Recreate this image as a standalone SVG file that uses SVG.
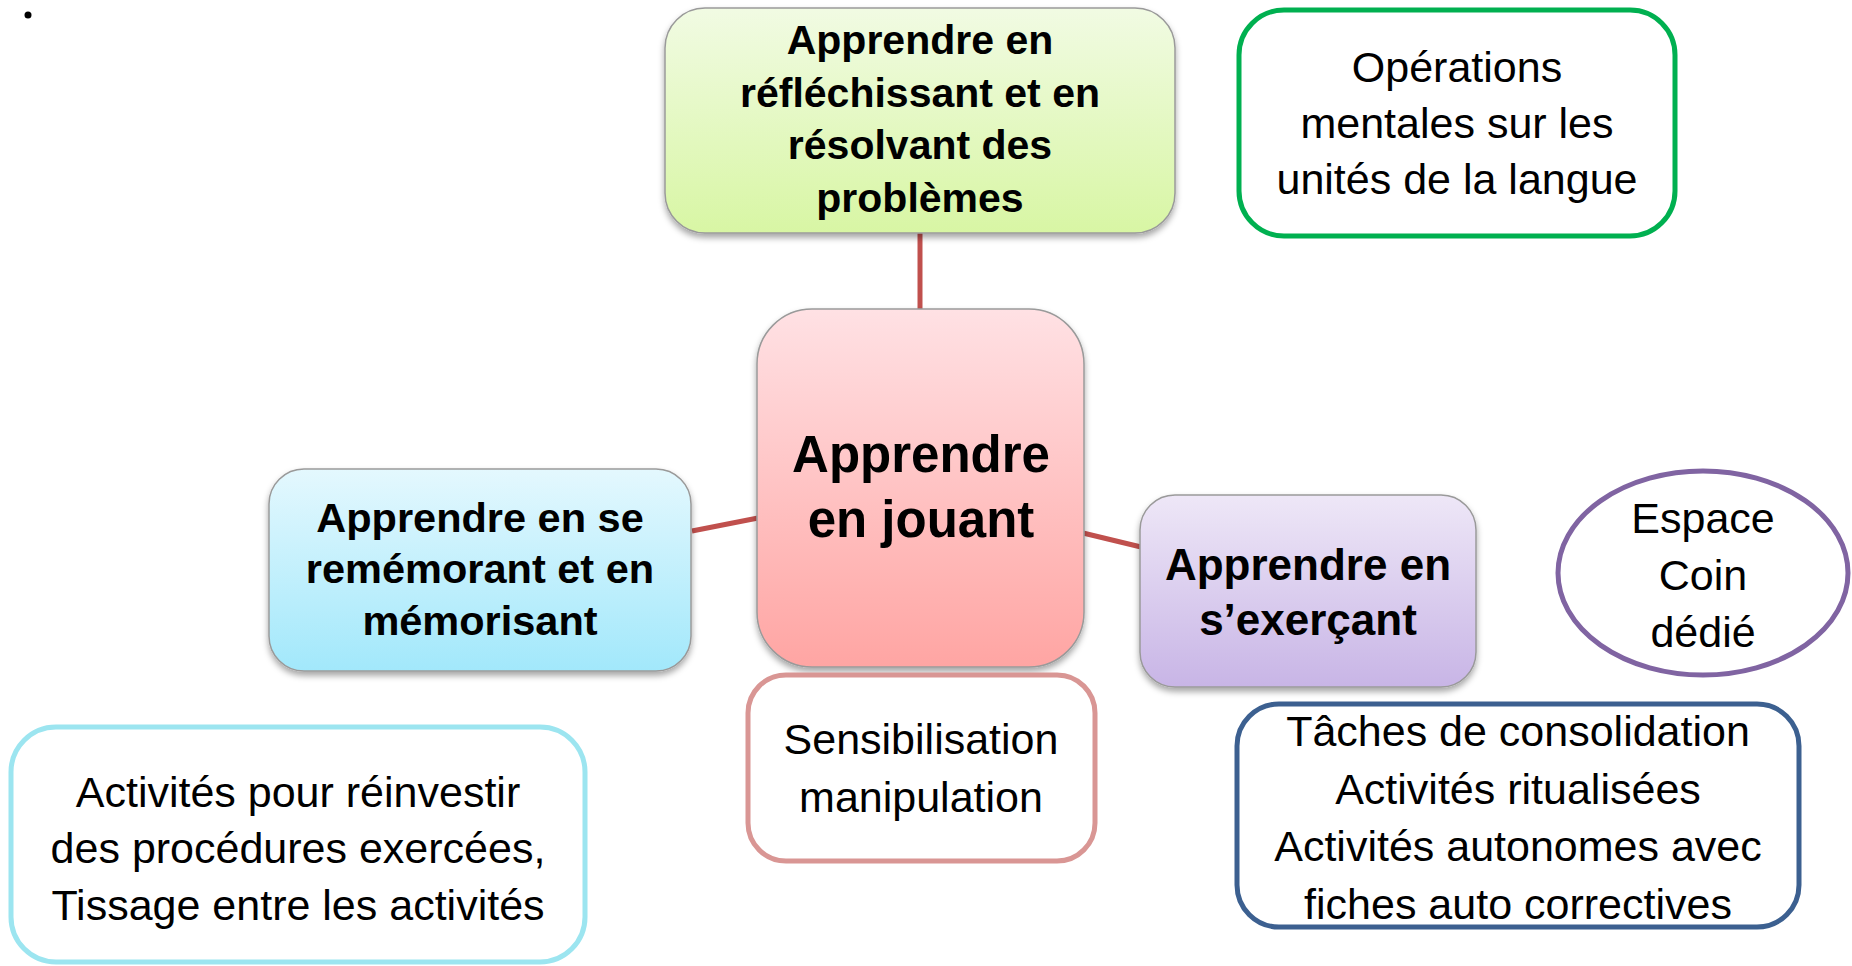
<svg xmlns="http://www.w3.org/2000/svg" width="1852" height="966" viewBox="0 0 1852 966">
<defs>
<linearGradient id="gGreen" x1="0" y1="0" x2="0" y2="1"><stop offset="0" stop-color="#f1fbe3"/><stop offset="1" stop-color="#d8f6a4"/></linearGradient>
<linearGradient id="gPink" x1="0" y1="0" x2="0" y2="1"><stop offset="0" stop-color="#ffe1e4"/><stop offset="1" stop-color="#ffa5a3"/></linearGradient>
<linearGradient id="gBlue" x1="0" y1="0" x2="0" y2="1"><stop offset="0" stop-color="#e4f8fe"/><stop offset="1" stop-color="#a2e8fb"/></linearGradient>
<linearGradient id="gPurple" x1="0" y1="0" x2="0" y2="1"><stop offset="0" stop-color="#eee7f7"/><stop offset="1" stop-color="#c8b5e6"/></linearGradient>
<filter id="shadow" x="-10%" y="-10%" width="120%" height="125%"><feDropShadow dx="0" dy="4" stdDeviation="3" flood-color="#000" flood-opacity="0.35"/></filter>
</defs>
<style>
.filled{stroke:#9a9a9a;stroke-width:1.5;filter:url(#shadow)}
.outl{fill:#fff;stroke-width:5}
.b{font-family:"Liberation Sans",Arial,sans-serif;font-weight:bold;fill:#000;text-anchor:middle}
.r{font-family:"Liberation Sans",Arial,sans-serif;fill:#000;text-anchor:middle;font-size:43px}
.conn{stroke:#c0504d;stroke-width:5;fill:none}
</style>
<rect width="1852" height="966" fill="#fff"/>
<circle cx="28" cy="15" r="3.5" fill="#000"/>
<g id="connectors">
<line class="conn" x1="920" y1="233" x2="920" y2="310"/>
<line class="conn" x1="692" y1="531" x2="758" y2="518"/>
<line class="conn" x1="1083" y1="533" x2="1141" y2="547"/>
</g>
<g id="node-reflechir">
<rect class="filled" x="665" y="8" width="510" height="225" rx="40" fill="url(#gGreen)"/>
<text class="b" font-size="41" x="920" y="54">Apprendre en</text>
<text class="b" font-size="41" x="920" y="107">réfléchissant et en</text>
<text class="b" font-size="41" x="920" y="159">résolvant des</text>
<text class="b" font-size="41" x="920" y="212">problèmes</text>
</g>
<g id="node-operations">
<rect class="outl" x="1239" y="10" width="436" height="226" rx="45" stroke="#00b050"/>
<text class="r" x="1457" y="82">Opérations</text>
<text class="r" x="1457" y="138">mentales sur les</text>
<text class="r" x="1457" y="194">unités de la langue</text>
</g>
<g id="node-jouant">
<rect class="filled" x="757" y="309" width="327" height="358" rx="55" fill="url(#gPink)"/>
<text class="b" font-size="51" x="921" y="472">Apprendre</text>
<text class="b" font-size="51" x="921" y="537">en jouant</text>
</g>
<g id="node-memoriser">
<rect class="filled" x="269" y="469" width="422" height="202" rx="35" fill="url(#gBlue)"/>
<text class="b" font-size="41.5" x="480" y="532">Apprendre en se</text>
<text class="b" font-size="41.5" x="480" y="583">remémorant et en</text>
<text class="b" font-size="41.5" x="480" y="635">mémorisant</text>
</g>
<g id="node-exercer">
<rect class="filled" x="1140" y="495" width="336" height="192" rx="35" fill="url(#gPurple)"/>
<text class="b" font-size="44" x="1308" y="580">Apprendre en</text>
<text class="b" font-size="44" x="1308" y="635">s’exerçant</text>
</g>
<g id="node-espace">
<ellipse cx="1703" cy="573" rx="145" ry="102" fill="#fff" stroke="#8064a2" stroke-width="5"/>
<text class="r" x="1703" y="533">Espace</text>
<text class="r" x="1703" y="590">Coin</text>
<text class="r" x="1703" y="647">dédié</text>
</g>
<g id="node-sensibilisation">
<rect class="outl" x="748" y="675" width="347" height="186" rx="38" stroke="#d99694"/>
<text class="r" x="921" y="754">Sensibilisation</text>
<text class="r" x="921" y="812">manipulation</text>
</g>
<g id="node-activites">
<rect class="outl" x="11" y="727" width="574" height="235" rx="45" stroke="#9ce5f0" stroke-width="6"/>
<text class="r" x="298" y="807">Activités pour réinvestir</text>
<text class="r" x="298" y="863">des procédures exercées,</text>
<text class="r" x="298" y="920">Tissage entre les activités</text>
</g>
<g id="node-taches">
<rect class="outl" x="1237" y="704" width="562" height="223" rx="42" stroke="#3c6090"/>
<text class="r" x="1518" y="746">Tâches de consolidation</text>
<text class="r" x="1518" y="804">Activités ritualisées</text>
<text class="r" x="1518" y="861">Activités autonomes avec</text>
<text class="r" x="1518" y="919">fiches auto correctives</text>
</g>
</svg>
